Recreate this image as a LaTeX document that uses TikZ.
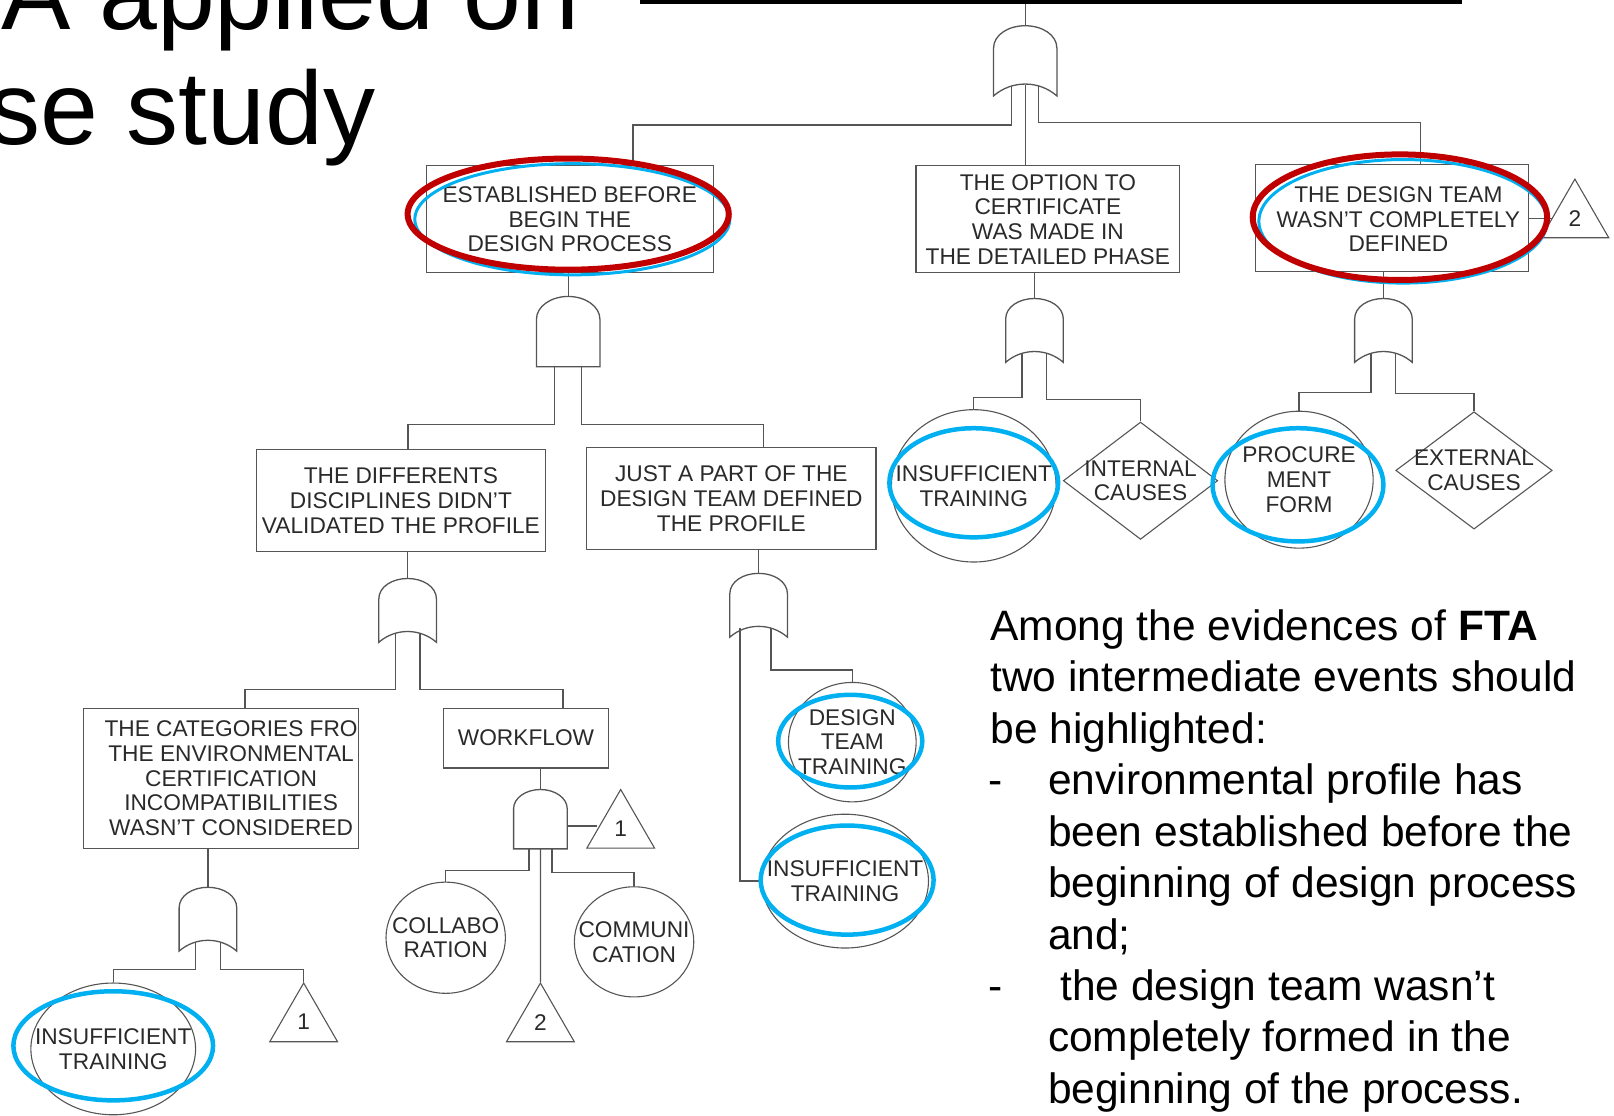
\documentclass[tikz,border=0pt]{standalone}
\usepackage{fontspec}
\setmainfont{Liberation Sans}
\usetikzlibrary{shapes.geometric}

% one unit = one pixel of the reference (y grows downwards)
\newcommand{\px}{1.0293pt}

\definecolor{linegray}{HTML}{555555}
\definecolor{textgray}{HTML}{2A2A2A}
\definecolor{markred}{HTML}{C00000}
\definecolor{markblue}{HTML}{00B0F0}

\tikzset{
  link/.style={draw=linegray, line width=1.3pt},
  gateline/.style={draw=linegray, line width=1.3pt, fill=white},
  evlabel/.style={font=\fontsize{22.7}{24.7}\selectfont, text=textgray, align=center, inner sep=0pt},
  eventbox/.style={rectangle, draw=linegray, line width=1.3pt, inner sep=0pt, evlabel},
  basicevent/.style={ellipse, draw=linegray, line width=1.1pt, inner sep=0pt},
  extevent/.style={diamond, draw=linegray, line width=1.1pt, inner sep=0pt},
  transfer/.style={regular polygon, regular polygon sides=3, draw=linegray, line width=1.1pt,
    minimum size=76*\px, inner sep=0pt, evlabel},
  redmark/.style={draw=markred, line width=6pt},
  bluemark/.style={draw=markblue, line width=4.5pt},
  notetext/.style={font=\fontsize{42.5}{51.5}\selectfont, inner sep=0pt},
  titletext/.style={font=\fontsize{104}{114}\selectfont, inner sep=0pt},
  pics/andgate/.style={code={
    \draw[gateline] (-28,62) -- (-28,20) .. controls (-28,9) and (-15.5,0) .. (0,0)
      .. controls (15.5,0) and (28,9) .. (28,20) -- (28,62) -- cycle;
    \coordinate (-top) at (0,0);
    \coordinate (-l) at (-12,62);
    \coordinate (-m) at (0,62);
    \coordinate (-r) at (12,62);
    \coordinate (-east) at (28,38);
  }},
  pics/orgate/.style={code={
    \draw[gateline] (-28,62) -- (-28,20) .. controls (-28,8) and (-15,0) .. (0,0)
      .. controls (15,0) and (28,8) .. (28,20) -- (28,62)
      .. controls (12,48) and (-12,48) .. (-28,62) -- cycle;
    \coordinate (-top) at (0,0);
    \coordinate (-l) at (-12,53);
    \coordinate (-m) at (0,52);
    \coordinate (-r) at (12,53);
  }},
}

\begin{document}
\begin{tikzpicture}[x=\px, y=-\px]
  \useasboundingbox (0,0) rectangle (1568,1084);

  % slide title, cut by the page edges
  \node[titletext, anchor=base east] (title1) at (563,29) {A applied on};
  \node[titletext, anchor=base east] (title2) at (365,140) {se study};

  % top event (only its lower edge is visible)
  \fill (622,0) rectangle (1420,4);
  \coordinate (topevent) at (996,4);

  % intermediate events
  \node[eventbox, minimum width=279*\px, minimum height=104*\px] (estab) at (553.5,213)
    {ESTABLISHED BEFORE\\BEGIN THE\\DESIGN PROCESS};
  \node[eventbox, minimum width=256*\px, minimum height=104*\px] (option) at (1018,213)
    {THE OPTION TO\\CERTIFICATE\\WAS MADE IN\\THE DETAILED PHASE};
  \node[eventbox, minimum width=265*\px, minimum height=104*\px,
    label={[evlabel, xshift=6*\px, yshift=-1*\px]center:{THE DESIGN TEAM\\WASN’T COMPLETELY\\DEFINED}}]
    (team) at (1352.5,212) {};
  \node[eventbox, minimum width=281*\px, minimum height=99*\px] (discip) at (389.5,486.5)
    {THE DIFFERENTS\\DISCIPLINES DIDN’T\\VALIDATED THE PROFILE};
  \node[eventbox, minimum width=281*\px, minimum height=99*\px] (part) at (710.5,484.5)
    {JUST A PART OF THE\\DESIGN TEAM DEFINED\\THE PROFILE};
  \node[eventbox, minimum width=267*\px, minimum height=136*\px,
    label={[evlabel, xshift=10*\px]center:{THE CATEGORIES FRO\\THE ENVIRONMENTAL\\CERTIFICATION\\INCOMPATIBILITIES\\WASN’T CONSIDERED}}]
    (categ) at (214.5,756) {};
  \node[eventbox, minimum width=160*\px, minimum height=58*\px] (workflow) at (511,717) {WORKFLOW};

  % basic events
  \node[basicevent, minimum width=160*\px, minimum height=148*\px,
    label={[evlabel]center:{INSUFFICIENT\\TRAINING}}] (trainA) at (946,472) {};
  \node[basicevent, minimum width=144*\px, minimum height=133*\px,
    label={[evlabel]center:{PROCURE\\MENT\\FORM}}] (procure) at (1262,466) {};
  \node[basicevent, minimum width=124*\px, minimum height=116*\px,
    label={[evlabel]center:{DESIGN\\TEAM\\TRAINING}}] (dtt) at (828,721) {};
  \node[basicevent, minimum width=162*\px, minimum height=130*\px,
    label={[evlabel]center:{INSUFFICIENT\\TRAINING}}] (trainB) at (821,856) {};
  \node[basicevent, minimum width=160*\px, minimum height=128*\px,
    label={[evlabel]center:{INSUFFICIENT\\TRAINING}}] (trainC) at (110,1019) {};
  \node[basicevent, minimum width=116*\px, minimum height=108*\px,
    label={[evlabel]center:{COLLABO\\RATION}}] (collabo) at (433,911) {};
  \node[basicevent, minimum width=116*\px, minimum height=107*\px,
    label={[evlabel]center:{COMMUNI\\CATION}}] (communi) at (616,915) {};

  % undeveloped events
  \node[extevent, minimum width=150*\px, minimum height=114*\px,
    label={[evlabel]center:{INTERNAL\\CAUSES}}] (intcause) at (1108,467) {};
  \node[extevent, minimum width=152*\px, minimum height=114*\px,
    label={[evlabel]center:{EXTERNAL\\CAUSES}}] (extcause) at (1432,457) {};

  % transfer symbols
  \node[transfer] (transA) at (1530,212) {2};
  \node[transfer] (transB) at (603,805) {1};
  \node[transfer] (transC) at (525,993) {2};
  \node[transfer] (transD) at (295,993) {1};

  % gates
  \pic[scale=1.1] (g1) at (996,25) {orgate};
  \pic[scale=1.1] (g2) at (552,288) {andgate};
  \pic (g3) at (1005,290) {orgate};
  \pic (g4) at (1344,290) {orgate};
  \pic (g5) at (396,562) {orgate};
  \pic (g6) at (737,557) {orgate};
  \pic[scale=0.93] (g7) at (525,767) {andgate};
  \pic (g8) at (202,862) {orgate};

  % connectors
  \draw[link] (topevent) -- (g1-top);
  \draw[link] (g1-l) -- ++(0,38) -| ([xshift=61.5*\px]estab.north);
  \draw[link] (g1-m) -- (g1-m |- option.north);
  \draw[link] (g1-r) -- ++(0,36) -| ([xshift=27.5*\px]team.north);

  \draw[link] (estab.south -| g2-top) -- (g2-top);
  \draw[link] (g2-l) -- ++(0,56) -| ([xshift=7*\px]discip.north);
  \draw[link] (g2-r) -- ++(0,56) -| ([xshift=31.5*\px]part.north);

  \draw[link] (option.south -| g3-top) -- (g3-top);
  \draw[link] (g3-l) -- ++(0,43) -| (trainA.north);
  \draw[link] (g3-r) -- ++(0,45) -| (intcause.north);

  \draw[link] (team.south -| g4-top) -- (g4-top);
  \draw[link] (g4-l) -- ++(0,38) -| (procure.north);
  \draw[link] (g4-r) -- ++(0,39) -| (extcause.north);
  \draw[link] (team.east) -- (team.east -| transA.west);

  \draw[link] (discip.south -| g5-top) -- (g5-top);
  \draw[link] (g5-l) -- ++(0,55) -| ([xshift=23.5*\px]categ.north);
  \draw[link] (g5-r) -- ++(0,55) -| ([xshift=36*\px]workflow.north);

  \draw[link] (part.south -| g6-top) -- (g6-top);
  \draw[link] ([xshift=-6*\px]g6-l) |- (trainB.west);
  \draw[link] (g6-r) -- ++(0,41) -| (dtt.north);

  \draw[link] (workflow.south -| g7-top) -- (g7-top);
  \draw[link] (g7-east) -- (g7-east -| transB.west);
  \draw[link] (g7-l) -- ++(0,21) -| (collabo.north);
  \draw[link] (g7-m) -- (transC.north);
  \draw[link] (g7-r) -- ++(0,23) -| (communi.north);

  \draw[link] (categ.south -| g8-top) -- (g8-top);
  \draw[link] (g8-l) -- ++(0,27) -| (trainC.north);
  \draw[link] (g8-r) -- ++(0,27) -| (transD.north);

  % highlight marks
  \draw[markblue, line width=3pt] (556,213) ellipse [x radius=153, y radius=54];
  \draw[redmark] (552,208) ellipse [x radius=156, y radius=54];
  \draw[markblue, line width=3pt] (1363,215) ellipse [x radius=140, y radius=60];
  \draw[redmark] (1360,211) ellipse [x radius=143, y radius=61];
  \draw[bluemark] (946,469) ellipse [x radius=82, y radius=53];
  \draw[bluemark] (1261,471) ellipse [x radius=83, y radius=55];
  \draw[bluemark] (826,720) ellipse [x radius=70, y radius=45];
  \draw[bluemark] (823,855) ellipse [x radius=84, y radius=53];
  \draw[bluemark] (110,1016) ellipse [x radius=97, y radius=53];

  % note on the right
  \foreach \lx/\ly/\ltxt [count=\i] in {
      962/622/{Among the evidences of \textbf{FTA}},
      962/672/{two intermediate events should},
      962/722/{be highlighted:},
      960/772/{-},
      1018/772/{environmental profile has},
      1018/822/{been established before the},
      1018/872/{beginning of design process},
      1018/922/{and;},
      960/972/{-},
      1030/972/{the design team wasn’t},
      1018/1022/{completely formed in the},
      1018/1072/{beginning of the process.}}
    \node[notetext, anchor=base west] (note\i) at (\lx,\ly) {\ltxt};
\end{tikzpicture}
\end{document}
